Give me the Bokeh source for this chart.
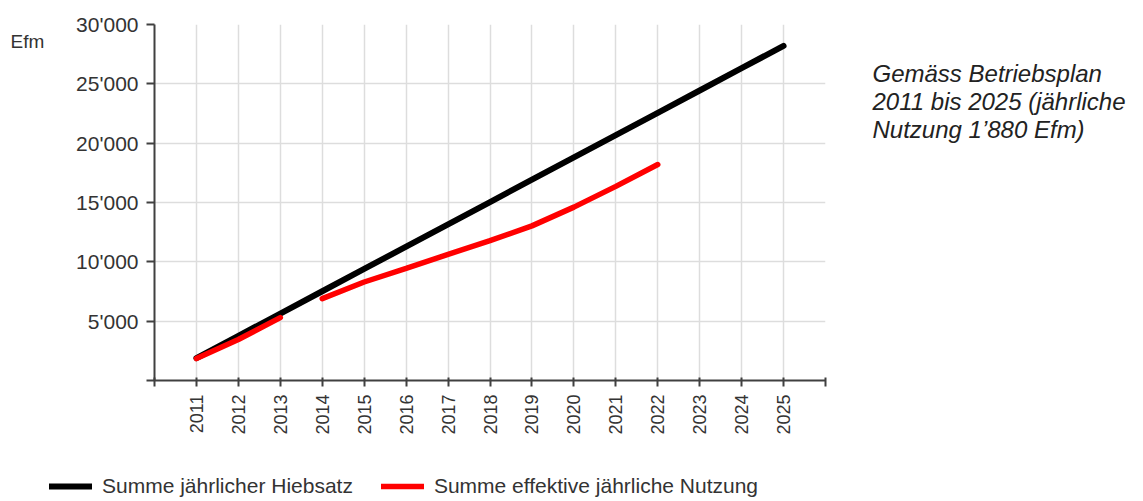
import math
from bokeh.plotting import figure
from bokeh.layouts import row, column
from bokeh.models import Range1d, FixedTicker, Label, Legend, LegendItem
from bokeh.embed import file_html
from bokeh.resources import INLINE

# ---- data ----
years = [2011, 2012, 2013, 2014, 2015, 2016, 2017, 2018, 2019, 2020, 2021, 2022, 2023, 2024, 2025]
hiebsatz_sum = [1880, 3760, 5640, 7520, 9400, 11280, 13160, 15040, 16920, 18800,
                20680, 22560, 24440, 26320, 28200]
nutzung_years_a = [2011, 2012, 2013]
nutzung_sum_a = [1850, 3450, 5300]
nutzung_years_b = [2014, 2015, 2016, 2017, 2018, 2019, 2020, 2021, 2022]
nutzung_sum_b = [6900, 8300, 9440, 10630, 11780, 13030, 14610, 16360, 18200]

x_ticks = [2010] + years + [2026]
x_tick_labels = [""] + [str(y) for y in years] + [""]
y_ticks = [0, 5000, 10000, 15000, 20000, 25000, 30000]
y_tick_labels = ["", "5'000", "10'000", "15'000", "20'000", "25'000", "30'000"]

series_names = ["Summe jährlicher Hiebsatz", "Summe effektive jährliche Nutzung"]
unit_label = "Efm"
note_text = "Gemäss Betriebsplan\n2011 bis 2025 (jährliche\nNutzung 1’880 Efm)"

FONT = "Liberation Sans"
AXIS_COL = "#404040"
TXT_COL = "#333333"
BLACK_STYLE = dict(line_color="black", line_width=6, line_cap="round")
RED_STYLE = dict(line_color="#ff0000", line_width=5.5, line_cap="round")

H_TOP, H_BOT = 460, 38
W_LEFT, W_MAIN, W_RIGHT = 56, 800, 284
W_ALL = W_LEFT + W_MAIN + W_RIGHT


def text_panel(w, h):
    f = figure(width=w, height=h, output_backend="svg", toolbar_location=None, title=None,
               x_range=Range1d(0, w), y_range=Range1d(0, h),
               min_border_left=0, min_border_right=0,
               min_border_top=0, min_border_bottom=0)
    f.axis.visible = False
    f.grid.visible = False
    f.outline_line_color = None
    f.border_fill_color = "white"
    f.background_fill_color = "white"
    return f


p = figure(width=W_MAIN, height=H_TOP, output_backend="svg", toolbar_location=None, title=None,
           x_range=Range1d(2010, 2026), y_range=Range1d(0, 30000),
           min_border_left=154 - W_LEFT, min_border_right=W_LEFT + W_MAIN - 825,
           min_border_top=24, min_border_bottom=H_TOP - 380)
p.outline_line_color = None
p.background_fill_color = "white"
p.border_fill_color = "white"

# axes
p.xaxis.ticker = FixedTicker(ticks=x_ticks)
p.xaxis.major_label_overrides = {t: l for t, l in zip(x_ticks, x_tick_labels)}
p.xaxis.major_label_orientation = math.pi / 2
p.xaxis.major_tick_out = 6
p.xaxis.major_tick_in = 3
p.xaxis.major_label_standoff = 8
p.xaxis.major_label_text_font_size = "18px"

p.yaxis.ticker = FixedTicker(ticks=y_ticks)
p.yaxis.major_label_overrides = {t: l for t, l in zip(y_ticks, y_tick_labels)}
p.yaxis.major_tick_out = 8
p.yaxis.major_tick_in = 0
p.yaxis.major_label_standoff = 8
p.yaxis.major_label_text_font_size = "21px"

for ax in (p.xaxis, p.yaxis):
    ax.axis_line_color = AXIS_COL
    ax.axis_line_width = 2
    ax.major_tick_line_color = AXIS_COL
    ax.major_tick_line_width = 2
    ax.minor_tick_line_color = None
    ax.major_label_text_font = FONT
    ax.major_label_text_color = TXT_COL
    ax.major_label_text_font_style = "normal"

p.grid.grid_line_color = "#dddddd"
p.grid.grid_line_width = 1.5

# lines
p.line(years, hiebsatz_sum, **BLACK_STYLE)
p.line(nutzung_years_a, nutzung_sum_a, **RED_STYLE)
p.line(nutzung_years_b, nutzung_sum_b, **RED_STYLE)

# left text panel ("Efm")
left = text_panel(W_LEFT, H_TOP)
left.add_layout(Label(x=10, y=H_TOP - 22, text=unit_label, text_font=FONT,
                      text_font_size="19px", text_color=TXT_COL, text_baseline="middle"))

# right text panel (note)
right = text_panel(W_RIGHT, H_TOP)
right.add_layout(Label(x=872 - W_LEFT - W_MAIN, y=H_TOP - 46, text=note_text, text_font=FONT,
                       text_font_size="24px", text_font_style="italic", text_color="#222222",
                       text_baseline="top", text_line_height=1.03))

# bottom legend panel (series drawn from the same data, outside this panel's view)
bottom = text_panel(W_ALL, H_BOT)
lb = bottom.line(years, hiebsatz_sum, **BLACK_STYLE)
lr = bottom.line(nutzung_years_b, nutzung_sum_b, **RED_STYLE)
legend = Legend(items=[LegendItem(label=series_names[0], renderers=[lb]),
                       LegendItem(label=series_names[1], renderers=[lr])],
                orientation="horizontal", location=(49, 0),
                padding=0, margin=0, spacing=28, glyph_width=43, glyph_height=22,
                label_standoff=10, label_text_font=FONT, label_text_font_size="21px",
                label_height=22, label_text_color=TXT_COL, border_line_color=None,
                background_fill_alpha=0)
bottom.add_layout(legend)

layout = column(row(left, p, right, spacing=0), bottom, spacing=0)
open("out.html", "w").write(file_html(layout, INLINE))
